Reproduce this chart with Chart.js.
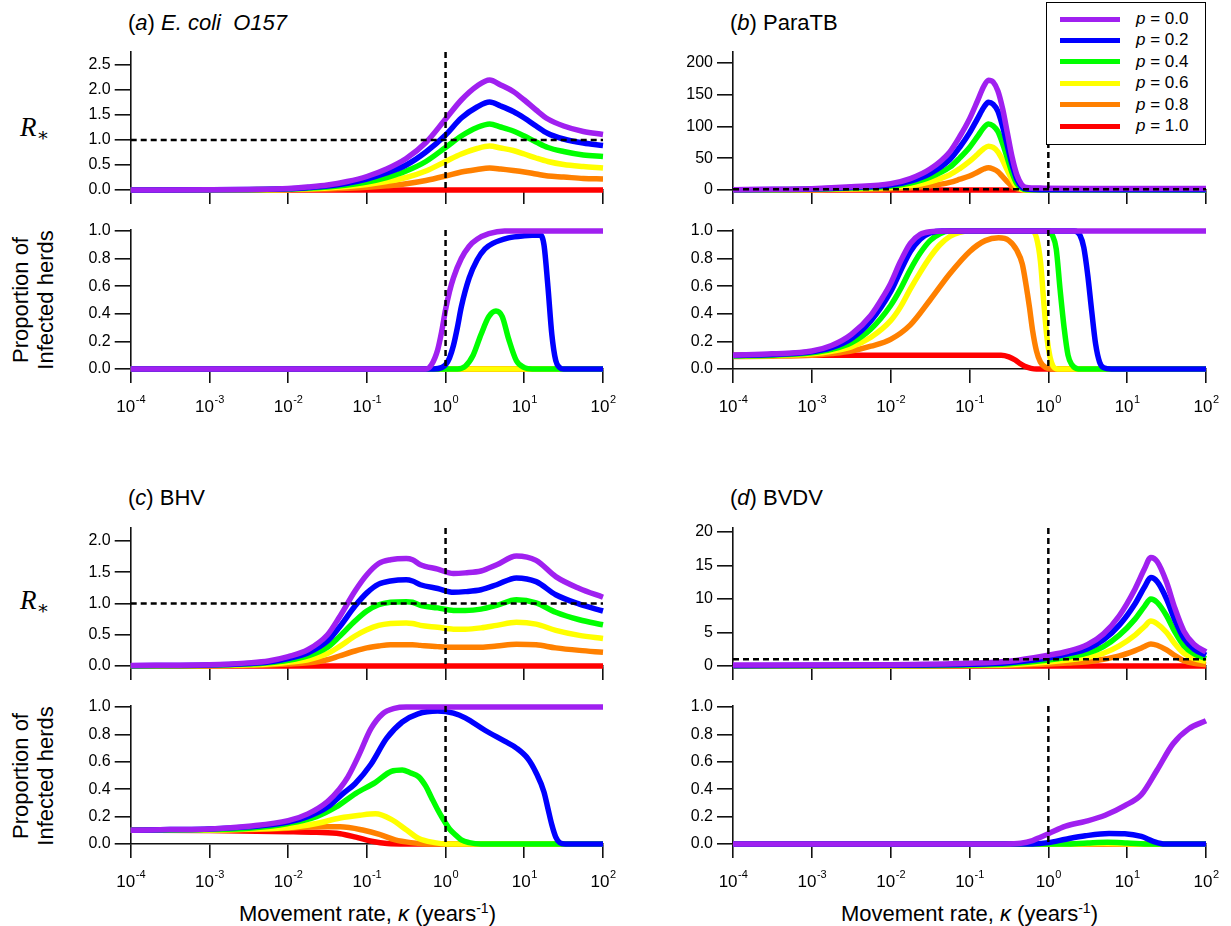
<!DOCTYPE html>
<html>
<head>
<meta charset="utf-8">
<script src="https://cdn.jsdelivr.net/npm/chart.js@4.4.0/dist/chart.umd.min.js"></script>
<style>
  html, body { margin: 0; padding: 0; background: #fff; }
  #page { position: relative; width: 1231px; height: 926px; overflow: hidden;
          font-family: 'Liberation Sans', Arial, Helvetica, sans-serif; color: #000; }
  canvas { position: absolute; }
  .title { position: absolute; font-size: 22px; line-height: 24px; white-space: nowrap; }
  .rstar { position: absolute; font-family: 'Liberation Serif', 'DejaVu Serif', serif; white-space: nowrap; line-height: 30px; }
  .rstar .r { font-style: italic; font-size: 27px; }
  .rstar .s { font-size: 19px; position: relative; top: 5px; }
  .ylab { position: absolute; width: 170px; height: 52px; line-height: 25px; font-size: 22px;
          text-align: center; transform: rotate(-90deg); white-space: nowrap; }
  .xtitle { position: absolute; width: 473px; text-align: center; font-size: 22px; line-height: 26px; white-space: nowrap; }
  .xtitle sup { font-size: 14px; line-height: 0; }
  #legend { position: absolute; left: 1046px; top: 2px; width: 160px; height: 143px; box-sizing: border-box;
            border: 1.5px solid #000; background: #fff; z-index: 10; }
  #legend .sw { position: absolute; left: 13px; width: 60px; height: 5px; }
  #legend .lt { position: absolute; left: 89px; font-size: 17px; line-height: 20px; white-space: nowrap; }
</style>
</head>
<body>
<div id="page">
  <div class="title" style="left:128px;top:11px">(<i>a</i>) <i>E. coli&nbsp; O157</i></div>
  <div class="title" style="left:730px;top:11px">(<i>b</i>) ParaTB</div>
  <div class="title" style="left:128px;top:486px">(<i>c</i>) BHV</div>
  <div class="title" style="left:730px;top:486px">(<i>d</i>) BVDV</div>

  <div class="rstar" style="left:20px;top:112px"><span class="r">R</span><span class="s">∗</span></div>
  <div class="rstar" style="left:20px;top:585px"><span class="r">R</span><span class="s">∗</span></div>

  <div class="ylab" style="left:-51px;top:274px">Proportion of<br>Infected herds</div>
  <div class="ylab" style="left:-51px;top:750px">Proportion of<br>Infected herds</div>

  <div class="xtitle" style="left:131px;top:901px">Movement rate, <i>κ</i> (years<sup>-1</sup>)</div>
  <div class="xtitle" style="left:733px;top:901px">Movement rate, <i>κ</i> (years<sup>-1</sup>)</div>

  <div id="legend"></div>

  <canvas id="aR"></canvas>
  <canvas id="aP"></canvas>
  <canvas id="bR"></canvas>
  <canvas id="bP"></canvas>
  <canvas id="cR"></canvas>
  <canvas id="cP"></canvas>
  <canvas id="dR"></canvas>
  <canvas id="dP"></canvas>
</div>

<script>
// series order: p = 0.0, 0.2, 0.4, 0.6, 0.8, 1.0
const pLabels = ['0.0', '0.2', '0.4', '0.6', '0.8', '1.0'];
const lineColors = ['#a020f0', '#0000ff', '#00ff00', '#ffff00', '#ff8000', '#ff0000'];

// x tick positions, log10 of the movement rate
const decades = [-4, -3, -2, -1, 0, 1, 2];

const rTicksEcoli = [0, 0.5, 1, 1.5, 2, 2.5];
const rTicksParatb = [0, 50, 100, 150, 200];
const rTicksBhv = [0, 0.5, 1, 1.5, 2];
const rTicksBvdv = [0, 5, 10, 15, 20];
const propTicks = [0, 0.2, 0.4, 0.6, 0.8, 1];

// each point is [log10(kappa), value]

// (a) E. coli O157, R*
const ecoliR = [
  [[-4,0],[-3,0.005],[-2.5,0.012],[-2,0.03],[-1.75,0.06],[-1.5,0.1],[-1.25,0.17],[-1,0.27],[-0.75,0.42],[-0.5,0.63],[-0.25,0.95],[0,1.42],[0.2,1.8],[0.4,2.08],[0.56,2.2],[0.7,2.1],[0.86,1.97],[1,1.8],[1.15,1.6],[1.3,1.42],[1.5,1.28],[1.75,1.17],[2,1.11]],
  [[-4,0],[-3,0.004],[-2.5,0.01],[-2,0.024],[-1.75,0.048],[-1.5,0.08],[-1.25,0.135],[-1,0.22],[-0.75,0.34],[-0.5,0.5],[-0.25,0.76],[0,1.1],[0.2,1.44],[0.4,1.66],[0.56,1.76],[0.7,1.68],[0.86,1.57],[1,1.44],[1.15,1.28],[1.3,1.13],[1.5,1.02],[1.75,0.94],[2,0.89]],
  [[-4,0],[-3,0.003],[-2.5,0.007],[-2,0.018],[-1.75,0.036],[-1.5,0.06],[-1.25,0.1],[-1,0.16],[-0.75,0.25],[-0.5,0.38],[-0.25,0.57],[0,0.85],[0.2,1.08],[0.4,1.25],[0.56,1.32],[0.7,1.26],[0.86,1.18],[1,1.08],[1.15,0.96],[1.3,0.85],[1.5,0.77],[1.75,0.7],[2,0.67]],
  [[-4,0],[-3,0.002],[-2.5,0.005],[-2,0.012],[-1.75,0.024],[-1.5,0.04],[-1.25,0.068],[-1,0.11],[-0.75,0.17],[-0.5,0.25],[-0.25,0.38],[0,0.57],[0.2,0.72],[0.4,0.83],[0.56,0.88],[0.7,0.84],[0.86,0.79],[1,0.72],[1.15,0.64],[1.3,0.57],[1.5,0.51],[1.75,0.47],[2,0.44]],
  [[-4,0],[-3,0.001],[-2.5,0.002],[-2,0.006],[-1.75,0.012],[-1.5,0.02],[-1.25,0.034],[-1,0.054],[-0.75,0.084],[-0.5,0.125],[-0.25,0.19],[0,0.28],[0.2,0.36],[0.4,0.41],[0.56,0.44],[0.7,0.42],[0.86,0.39],[1,0.36],[1.15,0.32],[1.3,0.28],[1.5,0.26],[1.75,0.23],[2,0.22]],
  [[-4,0],[2,0]]
];

// (a) E. coli O157, proportion of infected herds
const ecoliP = [
  [[-4,0],[-0.25,0],[-0.18,0.03],[-0.1,0.14],[-0.05,0.27],[0,0.43],[0.05,0.56],[0.1,0.66],[0.2,0.8],[0.3,0.89],[0.4,0.94],[0.55,0.98],[0.75,1],[2,1]],
  [[-4,0],[-0.15,0],[-0.05,0.01],[0,0.03],[0.05,0.08],[0.1,0.17],[0.15,0.3],[0.2,0.45],[0.3,0.66],[0.4,0.79],[0.5,0.87],[0.6,0.91],[0.8,0.95],[1,0.965],[1.2,0.97],[1.25,0.9],[1.3,0.6],[1.35,0.25],[1.4,0.06],[1.45,0.01],[1.5,0],[2,0]],
  [[-4,0],[0.15,0],[0.25,0.02],[0.35,0.1],[0.45,0.25],[0.55,0.38],[0.64,0.42],[0.72,0.38],[0.8,0.22],[0.9,0.06],[1,0.01],[1.1,0],[2,0]],
  [[-4,0],[2,0]],
  [[-4,0],[2,0]],
  [[-4,0],[2,0]]
];

// (b) ParaTB, R*
const paratbR = [
  [[-4,0.5],[-3.5,1],[-3,2],[-2.5,5],[-2,10],[-1.75,18],[-1.5,33],[-1.25,60],[-1.12,85],[-1,112],[-0.9,140],[-0.82,163],[-0.76,173],[-0.7,170],[-0.64,156],[-0.58,128],[-0.52,90],[-0.46,52],[-0.4,24],[-0.34,9],[-0.28,4],[-0.1,3],[0.5,2.5],[2,2.5]],
  [[-4,0.3],[-3.5,0.6],[-3,1.5],[-2.5,4],[-2,8],[-1.75,14],[-1.5,26],[-1.25,48],[-1.12,68],[-1,90],[-0.9,112],[-0.82,130],[-0.76,138],[-0.7,135],[-0.64,124],[-0.58,100],[-0.52,70],[-0.46,40],[-0.4,17],[-0.34,5],[-0.28,1.5],[-0.1,0.5],[2,0.3]],
  [[-4,0.2],[-3,1],[-2.5,3],[-2,6],[-1.75,11],[-1.5,20],[-1.25,36],[-1.12,51],[-1,67],[-0.9,84],[-0.82,98],[-0.76,104],[-0.7,101],[-0.64,92],[-0.58,73],[-0.52,50],[-0.46,27],[-0.4,10],[-0.34,3],[-0.28,0.5],[2,0]],
  [[-4,0.1],[-3,0.6],[-2.5,2],[-2,4],[-1.75,7],[-1.5,13],[-1.25,24],[-1.12,34],[-1,45],[-0.9,56],[-0.82,65],[-0.76,69],[-0.7,67],[-0.64,60],[-0.58,47],[-0.52,31],[-0.46,16],[-0.4,5],[-0.34,1],[-0.28,0],[2,0]],
  [[-4,0],[-3,0.3],[-2.5,1],[-2,2],[-1.75,3.5],[-1.5,6.5],[-1.25,12],[-1.12,17],[-1,22],[-0.9,28],[-0.82,33],[-0.76,35],[-0.7,33],[-0.64,29],[-0.58,21],[-0.52,13],[-0.46,6],[-0.4,2],[-0.34,0.5],[-0.28,0],[2,0]],
  [[-4,0],[2,0]]
];

// (b) ParaTB, proportion of infected herds
const paratbP = [
  [[-4,0.1],[-3.5,0.11],[-3,0.13],[-2.75,0.17],[-2.5,0.25],[-2.25,0.39],[-2.1,0.52],[-2,0.62],[-1.875,0.78],[-1.75,0.91],[-1.625,0.975],[-1.5,0.995],[-1.3,1],[2,1]],
  [[-4,0.098],[-3.5,0.105],[-3,0.125],[-2.75,0.155],[-2.5,0.22],[-2.25,0.35],[-2,0.56],[-1.875,0.71],[-1.75,0.85],[-1.625,0.94],[-1.5,0.985],[-1.35,1],[0.33,1],[0.4,0.97],[0.45,0.88],[0.5,0.68],[0.55,0.42],[0.6,0.18],[0.65,0.05],[0.7,0.01],[0.8,0],[2,0]],
  [[-4,0.095],[-3.5,0.1],[-3,0.118],[-2.75,0.142],[-2.5,0.19],[-2.25,0.29],[-2,0.46],[-1.875,0.58],[-1.75,0.72],[-1.625,0.84],[-1.5,0.93],[-1.375,0.98],[-1.25,1],[0,1],[0.05,0.97],[0.1,0.87],[0.15,0.57],[0.2,0.3],[0.25,0.1],[0.3,0.03],[0.38,0],[2,0]],
  [[-4,0.092],[-3.5,0.097],[-3,0.11],[-2.75,0.128],[-2.5,0.16],[-2.25,0.23],[-2,0.35],[-1.875,0.45],[-1.75,0.58],[-1.625,0.7],[-1.5,0.81],[-1.375,0.9],[-1.25,0.96],[-1.125,0.99],[-1,1],[-0.2,1],[-0.15,0.95],[-0.1,0.78],[-0.06,0.5],[-0.02,0.24],[0.02,0.09],[0.06,0.02],[0.12,0],[2,0]],
  [[-4,0.09],[-3.5,0.093],[-3,0.1],[-2.75,0.112],[-2.5,0.13],[-2.25,0.165],[-2,0.215],[-1.75,0.32],[-1.5,0.5],[-1.25,0.69],[-1,0.85],[-0.8,0.93],[-0.63,0.95],[-0.5,0.93],[-0.4,0.86],[-0.33,0.76],[-0.28,0.6],[-0.24,0.45],[-0.2,0.28],[-0.15,0.13],[-0.1,0.05],[-0.03,0.01],[0.05,0],[2,0]],
  [[-4,0.1],[-0.6,0.1],[-0.5,0.088],[-0.42,0.065],[-0.36,0.04],[-0.3,0.02],[-0.22,0.005],[-0.15,0],[2,0]]
];

// (c) BHV, R*
const bhvR = [
  [[-4,0.01],[-3,0.02],[-2.5,0.05],[-2.25,0.08],[-2,0.15],[-1.75,0.26],[-1.5,0.5],[-1.35,0.78],[-1.15,1.2],[-1,1.46],[-0.85,1.64],[-0.7,1.7],[-0.5,1.72],[-0.42,1.7],[-0.32,1.62],[-0.1,1.55],[0.1,1.48],[0.25,1.49],[0.45,1.52],[0.65,1.62],[0.9,1.76],[1.15,1.69],[1.4,1.43],[1.7,1.24],[2,1.1]],
  [[-4,0.005],[-3,0.015],[-2.5,0.04],[-2.25,0.065],[-2,0.12],[-1.75,0.21],[-1.5,0.4],[-1.35,0.62],[-1.15,0.96],[-1,1.17],[-0.85,1.31],[-0.7,1.36],[-0.5,1.38],[-0.42,1.36],[-0.32,1.3],[-0.1,1.24],[0.1,1.18],[0.25,1.19],[0.45,1.22],[0.65,1.3],[0.9,1.41],[1.15,1.35],[1.4,1.14],[1.7,0.99],[2,0.88]],
  [[-4,0.003],[-3,0.01],[-2.5,0.03],[-2.25,0.05],[-2,0.09],[-1.75,0.16],[-1.5,0.3],[-1.35,0.47],[-1.15,0.72],[-1,0.88],[-0.85,0.98],[-0.7,1.02],[-0.5,1.03],[-0.42,1.02],[-0.32,0.97],[-0.1,0.93],[0.1,0.89],[0.25,0.89],[0.45,0.91],[0.65,0.97],[0.9,1.06],[1.15,1.01],[1.4,0.86],[1.7,0.74],[2,0.66]],
  [[-4,0.002],[-3,0.006],[-2.5,0.02],[-2.25,0.03],[-2,0.06],[-1.75,0.1],[-1.5,0.2],[-1.35,0.31],[-1.15,0.48],[-1,0.58],[-0.85,0.65],[-0.7,0.68],[-0.5,0.69],[-0.42,0.68],[-0.32,0.65],[-0.1,0.62],[0.1,0.59],[0.25,0.59],[0.45,0.61],[0.65,0.65],[0.9,0.7],[1.15,0.67],[1.4,0.57],[1.7,0.49],[2,0.44]],
  [[-4,0.001],[-3,0.003],[-2.5,0.01],[-2.25,0.015],[-2,0.03],[-1.75,0.05],[-1.5,0.1],[-1.35,0.16],[-1.15,0.24],[-1,0.29],[-0.85,0.32],[-0.7,0.34],[-0.5,0.34],[-0.42,0.34],[-0.32,0.33],[-0.1,0.31],[0.1,0.3],[0.25,0.3],[0.45,0.3],[0.65,0.32],[0.9,0.35],[1.15,0.34],[1.4,0.29],[1.7,0.25],[2,0.22]],
  [[-4,0],[2,0]]
];

// (c) BHV, proportion of infected herds
const bhvP = [
  [[-4,0.1],[-3.5,0.105],[-3,0.11],[-2.5,0.13],[-2,0.17],[-1.75,0.22],[-1.5,0.31],[-1.35,0.4],[-1.24,0.49],[-1.1,0.65],[-0.95,0.84],[-0.8,0.95],[-0.65,0.99],[-0.5,1],[2,1]],
  [[-4,0.1],[-3.5,0.105],[-3,0.11],[-2.5,0.125],[-2,0.16],[-1.75,0.2],[-1.5,0.27],[-1.3,0.37],[-1.15,0.44],[-0.95,0.58],[-0.75,0.77],[-0.55,0.89],[-0.35,0.95],[-0.1,0.97],[0.1,0.955],[0.25,0.92],[0.5,0.83],[0.75,0.75],[0.9,0.7],[1.05,0.62],[1.15,0.52],[1.25,0.38],[1.3,0.26],[1.35,0.14],[1.4,0.05],[1.45,0.01],[1.52,0],[2,0]],
  [[-4,0.1],[-3,0.105],[-2.5,0.115],[-2,0.15],[-1.64,0.2],[-1.39,0.27],[-1.14,0.37],[-0.89,0.45],[-0.69,0.53],[-0.55,0.54],[-0.45,0.52],[-0.34,0.49],[-0.25,0.42],[-0.18,0.34],[-0.1,0.25],[-0.04,0.19],[0.05,0.11],[0.12,0.07],[0.2,0.03],[0.3,0.01],[0.45,0],[2,0]],
  [[-4,0.1],[-3,0.1],[-2.5,0.11],[-2,0.12],[-1.64,0.15],[-1.34,0.19],[-1.09,0.21],[-0.89,0.22],[-0.69,0.18],[-0.49,0.1],[-0.34,0.04],[-0.14,0.01],[0.01,0],[2,0]],
  [[-4,0.1],[-3,0.1],[-2,0.115],[-1.64,0.125],[-1.34,0.125],[-1.04,0.1],[-0.84,0.07],[-0.64,0.03],[-0.44,0.01],[-0.24,0],[2,0]],
  [[-4,0.1],[-3,0.098],[-2,0.09],[-1.64,0.085],[-1.34,0.075],[-1.14,0.05],[-0.94,0.02],[-0.74,0.003],[-0.5,0],[2,0]]
];

// (d) BVDV, R*
const bvdvR = [
  [[-4,0.15],[-2,0.2],[-1,0.4],[-0.5,0.7],[0,1.6],[0.25,2.2],[0.5,3.2],[0.7,4.8],[0.9,7.5],[1.1,11.5],[1.22,14.5],[1.3,16.2],[1.38,15.6],[1.5,12.5],[1.6,8.8],[1.72,5.2],[1.85,3.2],[2,2.1]],
  [[-4,0.05],[-2,0.1],[-1,0.25],[-0.5,0.5],[0,1.2],[0.25,1.8],[0.5,2.6],[0.7,3.9],[0.9,6.1],[1.1,9.3],[1.22,11.8],[1.3,13.2],[1.38,12.6],[1.5,10],[1.6,7],[1.72,4.1],[1.85,2.5],[2,1.6]],
  [[-4,0.03],[-2,0.06],[-1,0.15],[-0.5,0.35],[0,0.9],[0.25,1.35],[0.5,1.95],[0.7,2.9],[0.9,4.6],[1.1,7],[1.22,8.9],[1.3,10],[1.38,9.5],[1.5,7.5],[1.6,5.2],[1.72,3],[1.85,1.8],[2,1.1]],
  [[-4,0.02],[-2,0.04],[-1,0.1],[-0.5,0.2],[0,0.6],[0.25,0.9],[0.5,1.3],[0.7,1.9],[0.9,3],[1.1,4.6],[1.22,5.9],[1.3,6.7],[1.38,6.3],[1.5,5],[1.6,3.4],[1.72,1.9],[1.85,1.1],[2,0.7]],
  [[-4,0.01],[-2,0.02],[-1,0.05],[-0.5,0.1],[0,0.3],[0.25,0.45],[0.5,0.65],[0.7,1],[0.9,1.5],[1.1,2.3],[1.22,2.9],[1.3,3.3],[1.38,3.1],[1.5,2.4],[1.6,1.6],[1.72,0.8],[1.85,0.4],[2,0.2]],
  [[-4,0],[2,0]]
];

// (d) BVDV, proportion of infected herds
const bvdvP = [
  [[-4,0],[-0.55,0],[-0.35,0.005],[-0.2,0.025],[-0.1,0.05],[0,0.075],[0.22,0.13],[0.47,0.165],[0.72,0.21],[0.97,0.28],[1.18,0.36],[1.38,0.54],[1.58,0.73],[1.78,0.84],[2,0.9]],
  [[-4,0],[-0.2,0],[0,0.01],[0.22,0.035],[0.47,0.06],[0.77,0.077],[0.97,0.075],[1.18,0.055],[1.33,0.02],[1.48,0],[2,0]],
  [[-4,0],[0.2,0],[0.5,0.008],[0.75,0.013],[1,0.008],[1.3,0],[2,0]],
  [[-4,0],[0.3,0],[0.7,0.003],[1.1,0],[2,0]],
  [[-4,0],[2,0]],
  [[-4,0],[2,0]]
];

const FONT = "'Liberation Sans', Arial, Helvetica, sans-serif";
Chart.defaults.font.family = FONT;
Chart.defaults.color = '#000';

// dashed reference lines at R* = 1 and kappa = 1
const refLines = {
  id: 'refLines',
  afterDatasetsDraw(chart, args, opts) {
    const { ctx, chartArea: a, scales: { x, y } } = chart;
    ctx.save();
    ctx.strokeStyle = '#000';
    ctx.lineWidth = 2.5;
    ctx.setLineDash([6, 4]);
    if (opts.h != null) {
      const py = y.getPixelForValue(opts.h);
      ctx.beginPath(); ctx.moveTo(a.left, py); ctx.lineTo(a.right, py); ctx.stroke();
    }
    if (opts.v != null) {
      const px = x.getPixelForValue(opts.v);
      ctx.beginPath(); ctx.moveTo(px, a.top); ctx.lineTo(px, a.bottom); ctx.stroke();
    }
    ctx.restore();
  }
};

// "10" with a superscript exponent under each decade tick
const decadeLabels = {
  id: 'decadeLabels',
  afterDraw(chart, args, opts) {
    if (!opts.show) return;
    const { ctx, chartArea: a, scales: { x } } = chart;
    ctx.save();
    ctx.fillStyle = '#000';
    ctx.textBaseline = 'middle';
    ctx.textAlign = 'left';
    decades.forEach(e => {
      const px = x.getPixelForValue(Math.pow(10, e));
      ctx.font = '17px ' + FONT;
      const bw = ctx.measureText('10').width;
      ctx.font = '11px ' + FONT;
      const sup = String(e);
      const sw = ctx.measureText(sup).width;
      const left = px - (bw + sw) / 2;
      ctx.font = '17px ' + FONT;
      ctx.fillText('10', left, a.bottom + 38);
      ctx.font = '11px ' + FONT;
      ctx.fillText(sup, left + bw + 0.5, a.bottom + 31);
    });
    ctx.restore();
  }
};

function makePanel(id, series, o) {
  const cv = document.getElementById(id);
  const padTop = 14;
  const top = o.axisTop - padTop;
  const height = o.zero - top + o.xh;
  cv.width = o.width;
  cv.height = height;
  cv.style.left = o.left + 'px';
  cv.style.top = top + 'px';

  const datasets = series.map((pts, i) => ({
    label: 'p = ' + pLabels[i],
    data: pts.map(([e, v]) => ({ x: Math.pow(10, e), y: v })),
    borderColor: lineColors[i],
    borderWidth: 5.5,
    pointRadius: 0,
    fill: false,
    cubicInterpolationMode: 'monotone',
    clip: false
  }));

  return new Chart(cv, {
    type: 'line',
    data: { datasets },
    options: {
      responsive: false,
      animation: false,
      events: [],
      layout: { padding: { left: 0, right: o.padRight, top: padTop, bottom: 0 } },
      plugins: {
        legend: { display: false },
        tooltip: { enabled: false },
        refLines: { h: o.hLine, v: 1 },
        decadeLabels: { show: o.xLabels }
      },
      scales: {
        x: {
          type: 'logarithmic',
          min: 1e-4,
          max: 1e2,
          z: 1,
          afterBuildTicks: s => { s.ticks = decades.map(e => ({ value: Math.pow(10, e) })); },
          afterFit: s => { s.height = o.xh; },
          ticks: { display: false },
          grid: { drawOnChartArea: false, drawTicks: true, tickLength: 14, color: '#111', lineWidth: 1.6 },
          border: { display: true, color: '#111', width: 1.6 }
        },
        y: {
          min: 0,
          max: o.yMax,
          z: 1,
          afterBuildTicks: s => { s.ticks = o.yTicks.map(v => ({ value: v })); },
          afterFit: s => { s.width = o.yw; },
          ticks: {
            font: { size: 16 },
            color: '#000',
            padding: 4,
            callback: v => Number(v).toFixed(o.dec)
          },
          grid: { drawOnChartArea: false, drawTicks: true, tickLength: 16, color: '#111', lineWidth: 1.6 },
          border: { display: true, color: '#111', width: 1.6 }
        }
      }
    },
    plugins: [refLines, decadeLabels]
  });
}

const leftCol = { left: 0, width: 620, yw: 130.7, padRight: 17 };
const rightCol = { left: 620, width: 611, yw: 113, padRight: 25 };

makePanel('aR', ecoliR, { ...leftCol, axisTop: 52, zero: 190, xh: 16, yMax: 2.76, yTicks: rTicksEcoli, dec: 1, hLine: 1, xLabels: false });
makePanel('aP', ecoliP, { ...leftCol, axisTop: 230, zero: 369, xh: 60, yMax: 1.007, yTicks: propTicks, dec: 1, hLine: null, xLabels: true });
makePanel('bR', paratbR, { ...rightCol, axisTop: 52, zero: 190, xh: 16, yMax: 217.3, yTicks: rTicksParatb, dec: 0, hLine: 1, xLabels: false });
makePanel('bP', paratbP, { ...rightCol, axisTop: 230, zero: 369, xh: 60, yMax: 1.007, yTicks: propTicks, dec: 1, hLine: null, xLabels: true });
makePanel('cR', bhvR, { ...leftCol, axisTop: 528, zero: 666, xh: 16, yMax: 2.208, yTicks: rTicksBhv, dec: 1, hLine: 1, xLabels: false });
makePanel('cP', bhvP, { ...leftCol, axisTop: 706, zero: 844, xh: 60, yMax: 1.007, yTicks: propTicks, dec: 1, hLine: null, xLabels: true });
makePanel('dR', bvdvR, { ...rightCol, axisTop: 528, zero: 666, xh: 16, yMax: 20.6, yTicks: rTicksBvdv, dec: 0, hLine: 1, xLabels: false });
makePanel('dP', bvdvP, { ...rightCol, axisTop: 706, zero: 844, xh: 60, yMax: 1.007, yTicks: propTicks, dec: 1, hLine: null, xLabels: true });

// legend box in the top right corner
const legendBox = document.getElementById('legend');
pLabels.forEach((lab, i) => {
  const cy = 16 + i * 21.4;
  const sw = document.createElement('div');
  sw.className = 'sw';
  sw.style.top = (cy - 2.5) + 'px';
  sw.style.background = lineColors[i];
  legendBox.appendChild(sw);
  const lt = document.createElement('div');
  lt.className = 'lt';
  lt.style.top = (cy - 10) + 'px';
  lt.innerHTML = '<i>p</i> = ' + lab;
  legendBox.appendChild(lt);
});
</script>
</body>
</html>
